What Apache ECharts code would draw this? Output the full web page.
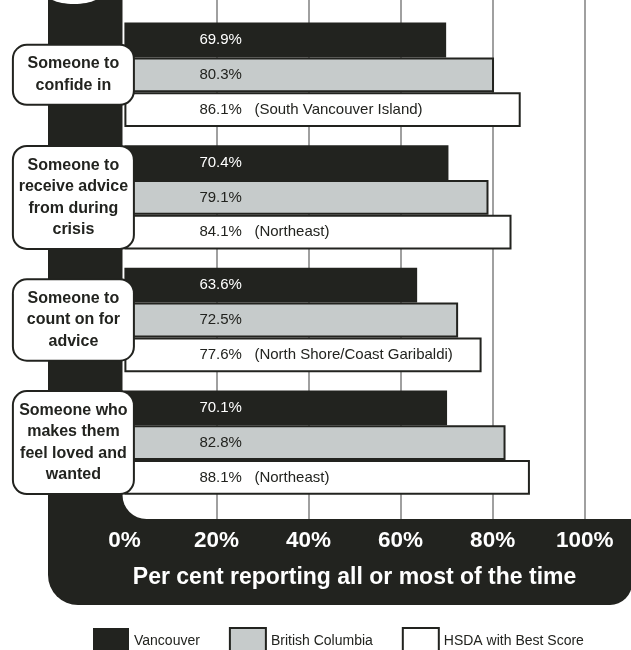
<!DOCTYPE html>
<html>
<head>
<meta charset="utf-8">
<script src="https://cdn.jsdelivr.net/npm/echarts@6/dist/echarts.min.js"></script>
<style>
html,body{margin:0;padding:0;background:#fff;}
#chart{width:631px;height:650px;}
</style>
</head>
<body>
<div id="chart"></div>
<script>
var categories = [
  'Someone to\nconfide in',
  'Someone to\nreceive advice\nfrom during\ncrisis',
  'Someone to\ncount on for\nadvice',
  'Someone who\nmakes them\nfeel loved and\nwanted'
];
var seriesNames = ['Vancouver', 'British Columbia', 'HSDA with Best Score'];
var vancouver = [69.9, 70.4, 63.6, 70.1];
var britishColumbia = [80.3, 79.1, 72.5, 82.8];
var hsdaBest = [86.1, 84.1, 77.6, 88.1];
var hsdaRegions = ['South Vancouver Island', 'Northeast', 'North Shore/Coast Garibaldi', 'Northeast'];
var xTicks = [0, 20, 40, 60, 80, 100];
var axisTitle = 'Per cent reporting all or most of the time';

var FONT = "'Liberation Sans', Arial, sans-serif";
var DARK = '#22231f';
var GRAY = '#c6cbcb';

var chart = echarts.init(document.getElementById('chart'));

var gridLeft = 124.4, gridWidth = 460.3;

function barLabel(color, extra) {
  return {
    show: true,
    position: [75, '50%'],
    align: 'left',
    verticalAlign: 'middle',
    color: color,
    fontFamily: FONT,
    fontSize: 15,
    formatter: function (p) {
      var s = p.value.toFixed(1) + '%';
      if (extra) s += '   (' + extra[p.dataIndex] + ')';
      return s;
    }
  };
}

var option = {
  animation: false,
  backgroundColor: '#fff',
  graphic: [
    { type: 'rect', z: -20, shape: { x: 48, y: -10, width: 584, height: 615, r: [0, 0, 22, 30] }, style: { fill: DARK } },
    { type: 'rect', z: -19, shape: { x: 122.5, y: -10, width: 520, height: 529, r: [0, 0, 0, 24] }, style: { fill: '#fff' } },
    { type: 'ellipse', z: -18, shape: { cx: 74, cy: -6, rx: 27, ry: 10 }, style: { fill: '#fff' } }
  ],
  grid: [
    { left: gridLeft, width: gridWidth, top: 13.5, height: 490.4 },
    { left: gridLeft, width: gridWidth, top: 0, height: 519 }
  ],
  xAxis: [
    { type: 'value', gridIndex: 0, min: 0, max: 100, show: false },
    {
      type: 'value', gridIndex: 1, min: 0, max: 100, interval: 20,
      axisLine: { show: false }, axisTick: { show: false },
      splitLine: { show: true, showMinLine: false, lineStyle: { color: '#808080', width: 1.5 } },
      axisLabel: {
        color: '#fff', fontFamily: FONT, fontWeight: 'bold', fontSize: 22.5, margin: 10,
        formatter: function (v) { return v + '%'; },
        customValues: xTicks
      },
      name: axisTitle, nameLocation: 'middle', nameGap: 47.5,
      nameTextStyle: { color: '#fff', fontFamily: FONT, fontWeight: 'bold', fontSize: 23 }
    }
  ],
  yAxis: [
    {
      type: 'category', gridIndex: 0, data: categories, inverse: true, z: 5,
      axisLine: { show: false }, axisTick: { show: false }, splitLine: { show: false },
      axisLabel: {
        interval: 0,
        align: 'center',
        margin: 51,
        width: 111,
        overflow: 'none',
        color: DARK,
        fontFamily: FONT,
        fontWeight: 'bold',
        fontSize: 16,
        lineHeight: 21.5,
        backgroundColor: '#fff',
        borderColor: DARK,
        borderWidth: 2,
        borderRadius: 13,
        padding: [8, 4, 7, 4]
      }
    },
    { type: 'value', gridIndex: 1, show: false, min: 0, max: 1 }
  ],
  legend: {
    data: seriesNames,
    left: 93, top: 627, padding: 0,
    icon: 'rect',
    itemWidth: 36, itemHeight: 26, itemGap: 29,
    textStyle: { color: DARK, fontFamily: FONT, fontSize: 14 }
  },
  series: [
    {
      name: seriesNames[0], type: 'bar', xAxisIndex: 0, yAxisIndex: 0,
      data: vancouver, barWidth: 34.8, barGap: '0%',
      itemStyle: { color: DARK, borderColor: DARK, borderWidth: 0 },
      label: barLabel('#fff')
    },
    {
      name: seriesNames[1], type: 'bar', xAxisIndex: 0, yAxisIndex: 0,
      data: britishColumbia, barWidth: 34.8, barGap: '0%',
      itemStyle: { color: GRAY, borderColor: DARK, borderWidth: 2 },
      label: barLabel(DARK)
    },
    {
      name: seriesNames[2], type: 'bar', xAxisIndex: 0, yAxisIndex: 0,
      data: hsdaBest, barWidth: 34.8, barGap: '0%',
      itemStyle: { color: '#fff', borderColor: DARK, borderWidth: 2 },
      label: barLabel(DARK, hsdaRegions)
    }
  ]
};
chart.setOption(option);
</script>
</body>
</html>
